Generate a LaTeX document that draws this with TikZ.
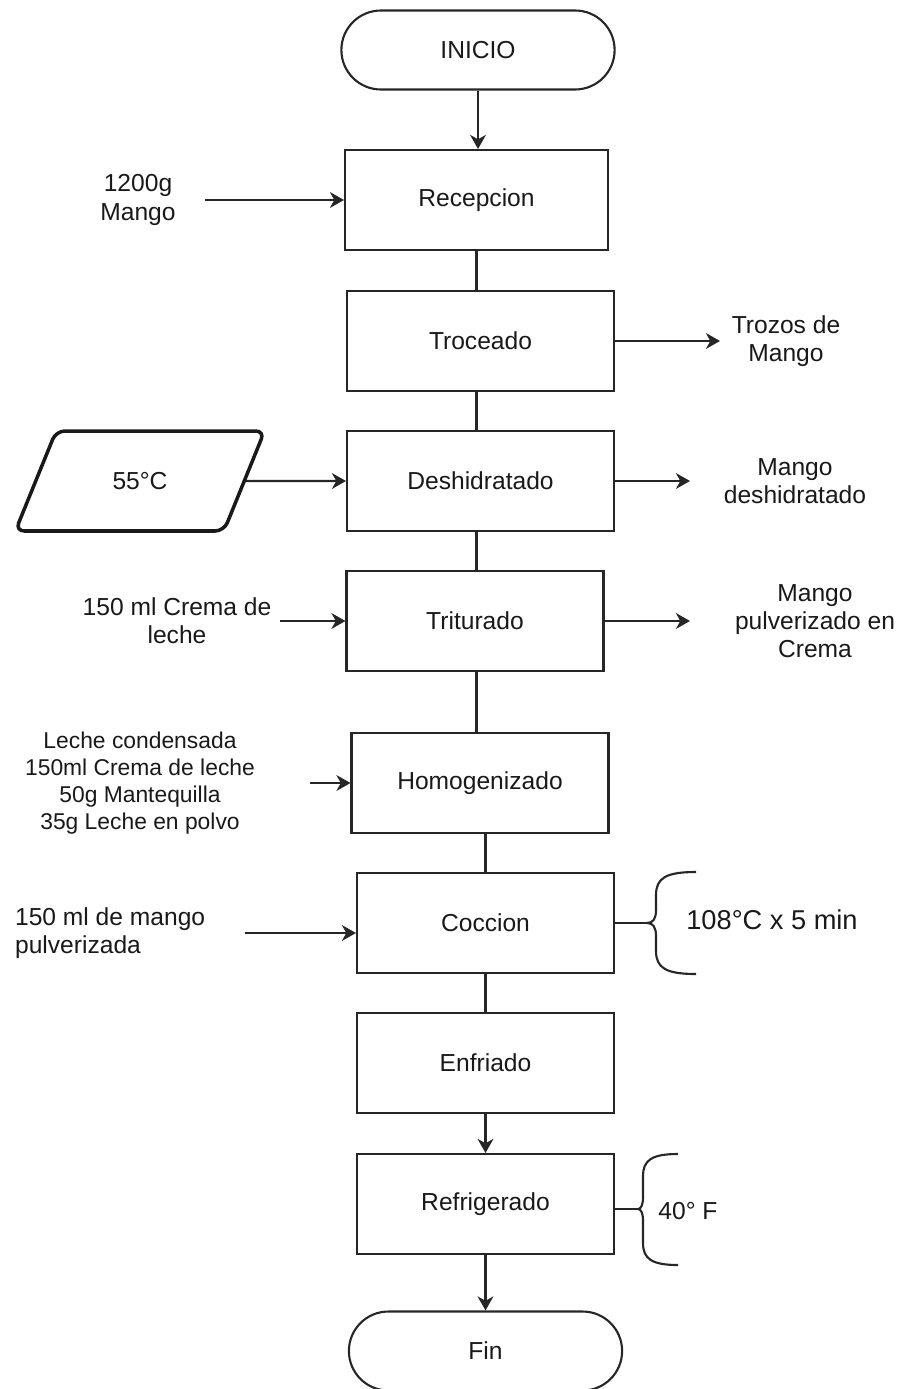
\documentclass[tikz,border=0pt]{standalone}
\usepackage{fontspec}
\setmainfont{Liberation Sans}
\usetikzlibrary{shapes.geometric, shapes.misc, arrows.meta, positioning, calc}
\tikzset{
  proc/.style={rectangle, draw=black!85, line width=1.2pt,
    minimum width=5.14cm, minimum height=2cm,
    font=\fontsize{14}{16}\selectfont, text=black!90},
  procW/.style={proc, minimum width=5.34cm},
  term/.style={rounded rectangle, draw=black!85, line width=1.2pt,
    minimum width=5.7cm, minimum height=1.58cm,
    font=\fontsize{14}{16}\selectfont, text=black!90},
  datin/.style={trapezium, trapezium left angle=61, trapezium right angle=119,
    trapezium stretches, draw=black!90, line width=2pt, rounded corners=5pt,
    minimum width=5.0cm, minimum height=2cm,
    font=\fontsize{14}{16}\selectfont, text=black!90},
  lbl/.style={align=center, inner sep=1pt,
    font=\fontsize{14}{16}\selectfont, text=black!90},
  arr/.style={-{Stealth[length=8pt, width=9pt, inset=2.5pt]}, line width=1.2pt, draw=black!85},
  ln/.style={line width=1.2pt, draw=black!85},
}

\begin{document}
\begin{tikzpicture}[x=0.02cm, y=-0.02cm]
  \useasboundingbox (0,0) rectangle (903,1389);

  % Main column
  \node[term]  (ini)  at (478,50)     {INICIO};
  \node[proc, minimum width=5.26cm] (rec) at (476.5,200) {Recepcion};
  \node[procW] (troc) at (480.5,341)  {Troceado};
  \node[procW] (desh) at (480.5,481)  {Deshidratado};
  \node[proc]  (trit) at (475,621)    {Triturado};
  \node[proc]  (homo) at (480,783)    {Homogenizado};
  \node[proc]  (cocc) at (485.5,923)  {Coccion};
  \node[proc]  (enfr) at (485.5,1063) {Enfriado};
  \node[proc]  (refr) at (485.5,1204) {Refrigerado};
  \node[term]  (fin)  at (485.5,1351) {Fin};

  % Flow
  \draw[arr] (ini.south) -- (ini.south |- rec.north);
  \draw[ln]  (rec.south) -- (rec.south |- troc.north);
  \draw[ln]  (troc.south -| rec.south) -- (rec.south |- desh.north);
  \draw[ln]  (desh.south -| rec.south) -- (rec.south |- trit.north);
  \draw[ln]  (trit.south -| rec.south) -- (rec.south |- homo.north);
  \draw[ln]  (homo.south -| cocc.north) -- (cocc.north);
  \draw[ln]  (cocc.south) -- (enfr.north);
  \draw[arr] (enfr.south) -- (refr.north);
  \draw[arr] (refr.south) -- (fin.north);

  % Inputs
  \node[lbl] (mango) at (138,200) {1200g\\Mango};
  \coordinate (mangoA) at (205,200);
  \draw[arr] (mangoA) -- (rec.west);

  \node[datin] (temp) at (140,481) {55°C};
  \draw[arr] (temp) -- (desh.west);

  \node[lbl] (crema) at (177,621) {150 ml Crema de\\leche};
  \coordinate (cremaA) at (280,621);
  \draw[arr] (cremaA) -- (trit.west);

  \node[lbl, font=\fontsize{13}{15.5}\selectfont] (mezcla) at (140,783)
       {Leche condensada\\150ml Crema de leche\\50g Mantequilla\\35g Leche en polvo};
  \coordinate (mezclaA) at (310,783);
  \draw[arr] (mezclaA) -- (mezclaA -| homo.west);

  \node[lbl, align=left, anchor=west] (pulpa) at (13,933)
       {150 ml de mango\\pulverizada};
  \coordinate (pulpaA) at (245,933);
  \draw[arr] (pulpaA) -- (pulpaA -| cocc.west);

  % Outputs
  \node[lbl] (trozos) at (786,341) {Trozos de\\Mango};
  \coordinate (trozosA) at (720,341);
  \draw[arr] (troc.east) -- (trozosA);

  \node[lbl] (seco) at (795,481) {Mango\\deshidratado};
  \coordinate (secoA) at (690,481);
  \draw[arr] (desh.east) -- (secoA);

  \node[lbl] (polvo) at (815,621) {Mango\\pulverizado en\\Crema};
  \coordinate (polvoA) at (690,621);
  \draw[arr] (trit.east) -- (polvoA);

  % Conditions
  \coordinate (cbr) at (647,923);
  \draw[ln] (cocc.east) -- (cbr);
  \draw[ln] (696,872) .. controls (666,872) and (656,878) .. (656,895)
       -- (656,910) .. controls (656,919) and (653,923) .. (cbr)
       .. controls (653,923) and (656,927) .. (656,936)
       -- (656,951) .. controls (656,968) and (666,974) .. (696,974);
  \node[lbl, font=\fontsize{15.5}{18}\selectfont] (coccT) at (772,920) {108°C x 5 min};

  \coordinate (rbr) at (638,1209);
  \draw[ln] (refr.east |- rbr) -- (rbr);
  \draw[ln] (678,1154) .. controls (652,1154) and (643,1160) .. (643,1176)
       -- (643,1197) .. controls (643,1205) and (641,1209) .. (rbr)
       .. controls (641,1209) and (643,1213) .. (643,1221)
       -- (643,1243) .. controls (643,1259) and (652,1265) .. (678,1265);
  \node[lbl] (refrT) at (688,1211) {40° F};
\end{tikzpicture}
\end{document}
